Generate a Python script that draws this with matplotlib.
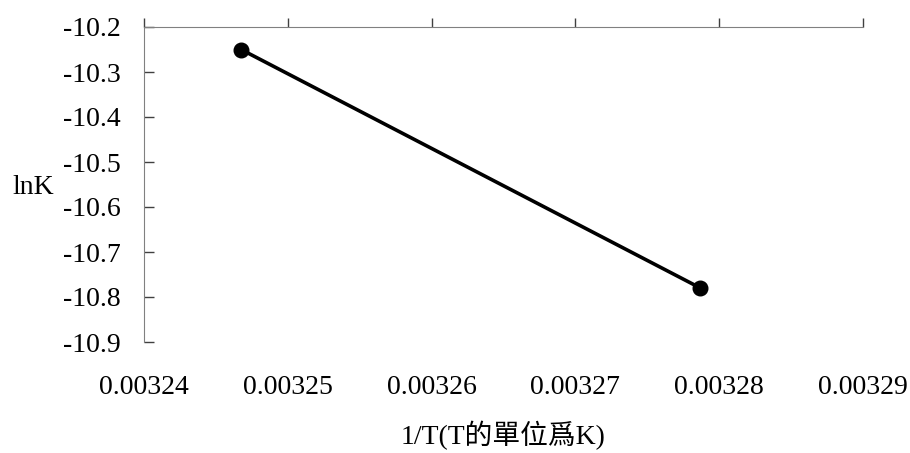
import matplotlib
matplotlib.use('Agg')
import matplotlib.pyplot as plt

# 1/T values (T = 308 K and 305 K) and lnK
inv_t = [1 / 308, 1 / 305]
ln_k = [-10.25, -10.78]

x_ticks = [0.00324, 0.00325, 0.00326, 0.00327, 0.00328, 0.00329]
x_labels = ['0.00324', '0.00325', '0.00326', '0.00327', '0.00328', '0.00329']
y_ticks = [-10.9, -10.8, -10.7, -10.6, -10.5, -10.4, -10.3, -10.2]
y_labels = ['-10.9', '-10.8', '-10.7', '-10.6', '-10.5', '-10.4', '-10.3', '-10.2']

fonts = ['Liberation Serif', 'Noto Sans CJK TC', 'DejaVu Sans']
plt.rcParams['font.family'] = fonts

fig = plt.figure(figsize=(9.1, 4.53), dpi=100)
ax = fig.add_axes([144 / 910, 1 - 342 / 453, (863 - 144) / 910, (342 - 27) / 453])

ax.plot(inv_t, ln_k, color='black', linewidth=2.6, marker='o', markersize=10.5)

ax.set_xlim(0.00324, 0.00329)
ax.set_ylim(-10.9, -10.2)

# axis styling: x axis line sits at the top, labels stay low
spine_color = '#808080'
ax.spines['bottom'].set_visible(False)
ax.spines['right'].set_visible(False)
ax.spines['top'].set_color(spine_color)
ax.spines['left'].set_color(spine_color)

ax.set_xticks(x_ticks)
ax.set_xticklabels(x_labels)
ax.set_yticks(y_ticks)
ax.set_yticklabels(y_labels)

ax.tick_params(axis='x', bottom=False, top=True, labelbottom=True, labeltop=False,
               direction='out', length=6.5, width=1, color='#404040',
               pad=17, labelsize=20)
ax.tick_params(axis='y', left=True, direction='in', length=7, width=1,
               color='#404040', pad=17, labelsize=20)

ax.set_xlabel('1/T(T的單位爲K)', fontsize=20, labelpad=15)
ax.text(-0.154, 0.49, 'lnK', transform=ax.transAxes, fontsize=20,
        ha='center', va='center')

fig.savefig('out.png', dpi=100)
